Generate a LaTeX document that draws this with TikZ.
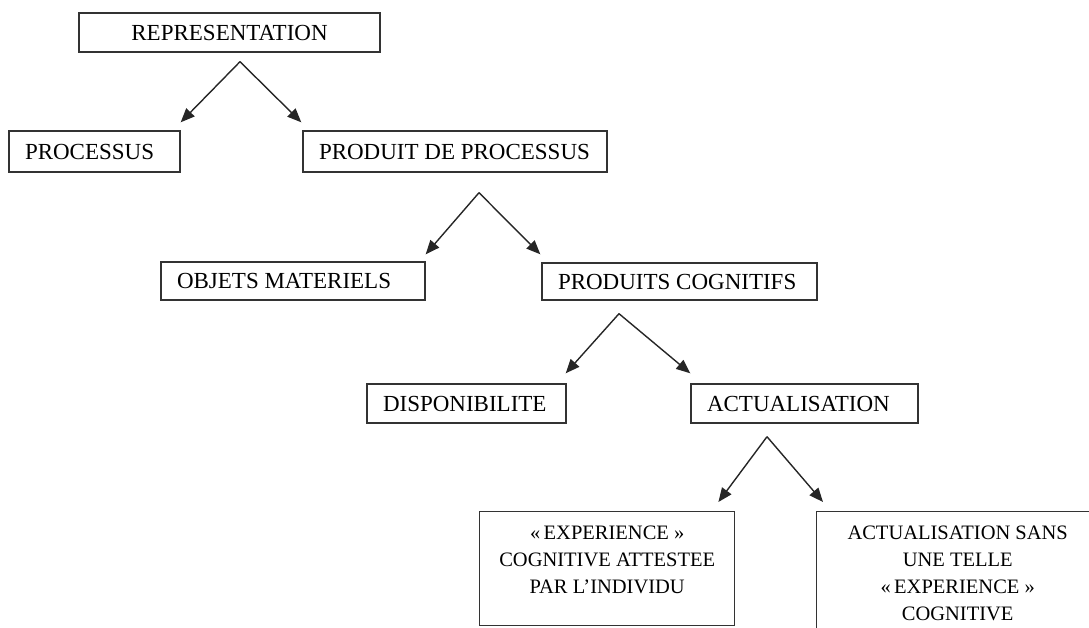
\documentclass[tikz,border=0pt]{standalone}
\usepackage{fontspec}
\setmainfont{Liberation Serif}
\usetikzlibrary{arrows.meta,calc}
\newcommand\lefttext[2]{\makebox[#1][l]{#2}}
\begin{document}
\begin{tikzpicture}[x=1pt,y=-1pt,
  box/.style={draw=black!80,line width=1.4pt,inner xsep=16pt,inner ysep=0pt,
    text height=15.5pt,text depth=0pt,font=\fontsize{23}{27}\selectfont},
  tallbox/.style={draw=black!80,line width=1.4pt,inner sep=0pt,anchor=north west,
    font=\fontsize{20.5}{27}\selectfont},
  link/.style={draw=black!85,line width=1.4pt,-{Triangle[length=14pt,width=11.5pt]}}]
\useasboundingbox (0,0) rectangle (1089,628);
\clip (0,0) rectangle (1089,628);

\node[box,minimum width=301,minimum height=39] (rep) at (229.5,32.5) {REPRESENTATION};
\node[box,minimum height=41] (proc) at (94.5,151.5) {\lefttext{139pt}{PROCESSUS}};
\node[box,minimum height=41] (prod) at (455,151.5) {\lefttext{272pt}{PRODUIT DE PROCESSUS}};
\node[box,minimum height=38] (obj) at (293,281) {\lefttext{232pt}{OBJETS MATERIELS}};
\node[box,minimum height=37] (cog) at (679.5,281.5) {\lefttext{243pt}{PRODUITS COGNITIFS}};
\node[box,minimum height=39] (disp) at (466.5,403.5) {\lefttext{167pt}{DISPONIBILITE}};
\node[box,minimum height=39] (act) at (804.5,403.5) {\lefttext{195pt}{ACTUALISATION}};
\node[tallbox] (exp) at (479,511) {\parbox[t][114pt][t]{255pt}{\centering\vspace*{14pt}«\,EXPERIENCE~»\\COGNITIVE ATTESTEE\\PAR L’INDIVIDU}};
\node[tallbox] (sans) at (816,511) {\parbox[t][140pt][t]{282pt}{\centering\vspace*{14pt}ACTUALISATION SANS\\UNE TELLE\\«\,EXPERIENCE~»\\COGNITIVE}};

\coordinate (r0) at ($(rep.south)+(10.5,9)$);
\coordinate (p0) at ($(prod.south)+(24,20)$);
\coordinate (c0) at ($(cog.south)+(-60.5,13)$);
\coordinate (a0) at ($(act.south)+(-37.5,13)$);

\draw[link] (r0) -- ($(proc.north east)+(0,-8)$);
\draw[link] (r0) -- ($(prod.north west)+(-1,-8)$);
\draw[link] (p0) -- ($(obj.north east)+(0,-7)$);
\draw[link] (p0) -- ($(cog.north west)+(-1,-8)$);
\draw[link] (c0) -- ($(disp.north east)+(-1,-10)$);
\draw[link] (c0) -- ($(act.north west)+(0,-10)$);
\draw[link] (a0) -- ($(exp.north east)+(-17,-9)$);
\draw[link] (a0) -- ($(sans.north west)+(7,-9)$);
\end{tikzpicture}
\end{document}
